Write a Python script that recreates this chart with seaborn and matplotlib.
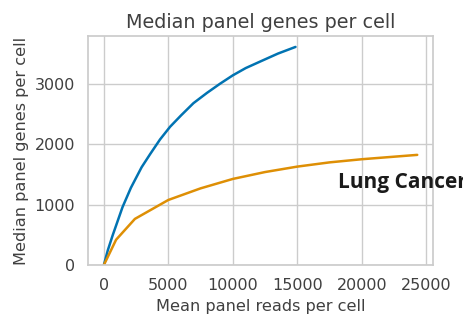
import pandas as pd
import seaborn as sns
import matplotlib.pyplot as plt

# blue series (ends ~14.9k reads)
blue_reads = [0, 300, 680, 1450, 2100, 2930, 3600, 4360, 5140, 6000, 6950,
              8000, 9000, 10000, 11000, 12140, 13500, 14860]
blue_genes = [0, 240, 490, 960, 1280, 1620, 1840, 2080, 2290, 2480, 2680,
              2850, 3000, 3140, 3260, 3370, 3500, 3610]

# orange series (ends ~24.3k reads)
orange_reads = [0, 950, 2410, 5000, 7500, 10000, 12500, 15000, 17500, 20000, 24300]
orange_genes = [0, 420, 765, 1078, 1270, 1426, 1540, 1630, 1700, 1752, 1824]

SAMPLES = ["sample_1", "Lung Cancer"]


def plot_saturation(df):
    sns.set_theme(style="whitegrid")
    colors = sns.color_palette("colorblind", 2)

    fig, ax = plt.subplots(1, 1, figsize=(4.64, 3.16), dpi=100)
    fig.subplots_adjust(left=0.19, right=0.933, top=0.886, bottom=0.161)

    sns.lineplot(
        x="reads", y="genes", hue="sample", hue_order=SAMPLES,
        data=df, ax=ax, palette=colors, linewidth=1.8, legend=False,
    )

    ax.set_ylim(bottom=0)
    ax.set_xticks([0, 5000, 10000, 15000, 20000, 25000])
    ax.set_yticks([0, 1000, 2000, 3000])
    ax.tick_params(labelsize=11.5, colors=".25")
    ax.set_xlabel("Mean panel reads per cell", fontsize=11.6, color=".25")
    ax.set_ylabel("Median panel genes per cell", fontsize=11.6, color=".25")
    ax.set_title("Median panel genes per cell", fontsize=13.8, color=".25")

    fig.text(338 / 464, 1 - 188 / 316, "Lung Cancer", fontsize=15,
             fontweight="bold", family=["Open Sans", "DejaVu Sans"], color=".1")

    fig.savefig("out.png", dpi=100)


if __name__ == "__main__":
    df = pd.concat([
        pd.DataFrame({"reads": blue_reads, "genes": blue_genes, "sample": SAMPLES[0]}),
        pd.DataFrame({"reads": orange_reads, "genes": orange_genes, "sample": SAMPLES[1]}),
    ])
    plot_saturation(df)
